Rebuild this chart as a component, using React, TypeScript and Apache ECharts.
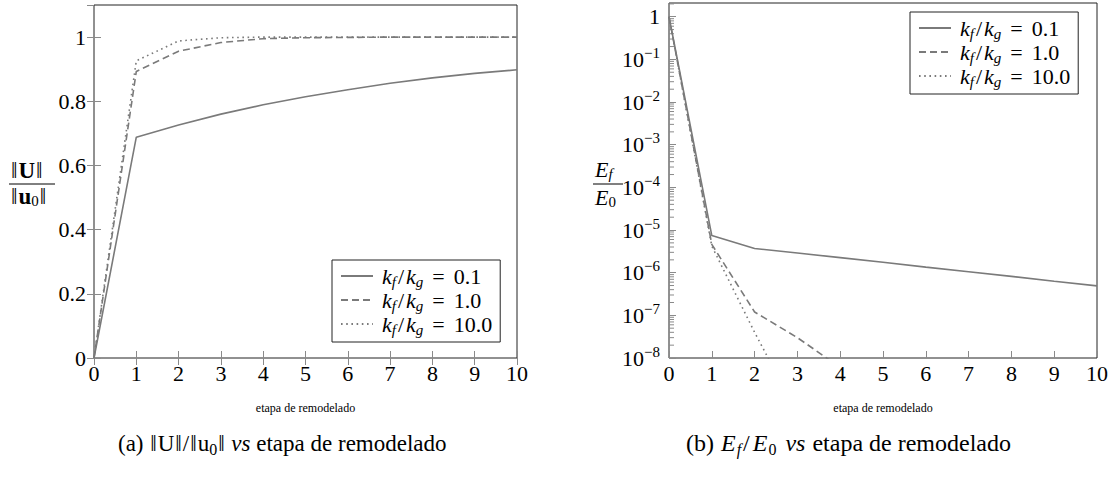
import React, { useEffect, useRef } from "react";
import * as echarts from "echarts";

const steps = [0, 1, 2, 3, 4, 5, 6, 7, 8, 9, 10];
const seriesNames = ["kf/kg = 0.1", "kf/kg = 1.0", "kf/kg = 10.0"];
const ratioLabels = ["0.1", "1.0", "10.0"];

// ||U|| / ||u0||
const normU_01 = [0, 0.688, 0.726, 0.76, 0.789, 0.814, 0.836, 0.856, 0.873, 0.887, 0.898];
const normU_1 = [0, 0.893, 0.956, 0.983, 0.995, 0.998, 0.999, 1.0, 1.0, 1.0, 1.0];
const normU_10 = [0, 0.926, 0.988, 0.998, 1.0, 1.0, 1.0, 1.0, 1.0, 1.0, 1.0];

// Ef / E0
const energy_01 = [1, 7.4e-6, 3.7e-6, 2.9e-6, 2.25e-6, 1.75e-6, 1.35e-6, 1.05e-6, 8.2e-7, 6.3e-7, 4.9e-7];
const energy_1 = [1, 4.6e-6, 1.2e-7, 3.0e-8, 6.0e-9];
const energy_10 = [1, 4.2e-6, 4.0e-8, 5.0e-10];

const linTicks = [0, 0.2, 0.4, 0.6, 0.8, 1];
const logDecades = [-8, -7, -6, -5, -4, -3, -2, -1, 0];
const minorMultipliers = [2, 3, 4, 5, 6, 7, 8, 9];

const FONT = "'Liberation Serif', 'DejaVu Serif', serif";
const LINE = "#7a7a7a";
const AXIS = "#222";
const TICK = "#8a8a8a";
const dashTypes: any[] = ["solid", [7, 4], [1.6, 3.6]];
const TICKFS = 22;

const pairs = (ys: number[]) => ys.map((y, i) => [steps[i], y]);

const legendRich = {
  p: { fontFamily: FONT, fontSize: 22, lineHeight: 26, color: "#000", padding: [0, 0, 0, 4] },
  i: { fontFamily: FONT, fontStyle: "italic", fontSize: 22, lineHeight: 26, color: "#000" },
  s: { fontFamily: FONT, fontStyle: "italic", fontSize: 15, lineHeight: 24, verticalAlign: "bottom", color: "#000" },
  n: { fontFamily: FONT, fontSize: 22, lineHeight: 26, color: "#000" },
  d: { fontFamily: FONT, fontSize: 22, lineHeight: 26, color: "#000", padding: [0, 2, 0, 2] },
  e: { fontFamily: FONT, fontSize: 22, lineHeight: 26, color: "#000", padding: [0, 9, 0, 9] },
};

const legendFormatter = (name: string) => {
  const idx = seriesNames.indexOf(name);
  return `{p|}{i|k}{s|f}{d|/}{i|k}{s|g}{e|=}{n|${ratioLabels[idx]}}`;
};

export default function App() {
  const ref = useRef<HTMLDivElement>(null);
  useEffect(() => {
    if (!ref.current) return;
    const chart = echarts.init(ref.current, undefined, { renderer: "svg" });

    const minorData: number[][] = [];
    logDecades.forEach((d) => {
      minorMultipliers.forEach((m) => {
        const v = m * Math.pow(10, d);
        if (v <= 2.1) minorData.push([0, v]);
      });
    });

    const tickStyle = { show: true, inside: true, length: 7, lineStyle: { color: TICK, width: 1 } };
    const hiddenSymbol = { color: "rgba(0,0,0,0)", borderColor: "rgba(0,0,0,0)", borderWidth: 0, opacity: 0 };

    const legendBase = {
      orient: "vertical",
      borderColor: AXIS, borderWidth: 1, padding: [5, 8, 5, 8], itemGap: 0,
      itemWidth: 32, itemHeight: 14, backgroundColor: "#fff",
      itemStyle: hiddenSymbol,
      textStyle: { rich: legendRich, fontFamily: FONT, fontSize: 22 },
      selectedMode: false,
    };

    const axisName = {
      name: "etapa de remodelado", nameLocation: "middle", nameGap: 44,
      nameTextStyle: { fontFamily: FONT, fontSize: 12, color: "#000" },
    };

    const option: any = {
      animation: false,
      backgroundColor: "#fff",
      textStyle: { fontFamily: FONT },
      grid: [
        { left: 94, top: 5, width: 423, height: 353, show: true, borderColor: AXIS, borderWidth: 1, backgroundColor: "transparent" },
        { left: 669, top: 3, width: 428, height: 355, show: true, borderColor: AXIS, borderWidth: 1, backgroundColor: "transparent" },
      ],
      xAxis: [
        {
          gridIndex: 0, type: "value", min: 0, max: 10, interval: 1,
          axisLine: { show: false }, axisTick: tickStyle, splitLine: { show: false },
          axisLabel: { fontFamily: FONT, fontSize: TICKFS, color: "#000", margin: 4 },
          ...axisName,
        },
        {
          gridIndex: 0, type: "value", min: 0, max: 10, interval: 1, position: "top",
          axisLine: { show: false }, axisTick: tickStyle, splitLine: { show: false }, axisLabel: { show: false },
        },
        {
          gridIndex: 1, type: "value", min: 0, max: 10, interval: 1,
          axisLine: { show: false }, axisTick: tickStyle, splitLine: { show: false },
          axisLabel: { fontFamily: FONT, fontSize: TICKFS, color: "#000", margin: 4 },
          ...axisName,
        },
      ],
      yAxis: [
        {
          gridIndex: 0, type: "value", min: 0, max: 1.1, interval: 0.2,
          axisLine: { show: false }, axisTick: tickStyle, splitLine: { show: false },
          axisLabel: {
            fontFamily: FONT, fontSize: TICKFS, color: "#000", margin: 8, showMaxLabel: false,
            formatter: (v: number) => {
              const r = Math.round(v * 10) / 10;
              if (!linTicks.some((t) => Math.abs(t - r) < 1e-9)) return "";
              return r === 0 ? "0" : r === 1 ? "1" : r.toFixed(1);
            },
          },
        },
        {
          gridIndex: 0, type: "value", min: 0, max: 1.1, interval: 0.2, position: "right",
          axisLine: { show: false }, axisTick: tickStyle, splitLine: { show: false }, axisLabel: { show: false },
        },
        {
          gridIndex: 1, type: "log", logBase: 10, min: 1e-8, max: 2.1, interval: 1,
          axisLine: { show: false }, axisTick: tickStyle, splitLine: { show: false },
          axisLabel: {
            margin: 9, showMaxLabel: false,
            formatter: (v: number) => {
              const e = Math.round(Math.log10(v));
              if (Math.abs(Math.log10(v) - e) > 1e-6) return "";
              if (e === 0) return "{b|1}";
              return `{b|10}{e|−${-e}}`;
            },
            rich: {
              b: { fontFamily: FONT, fontSize: TICKFS, color: "#000", lineHeight: 28 },
              e: { fontFamily: FONT, fontSize: 15, color: "#000", lineHeight: 16, verticalAlign: "top" },
            },
          },
        },
      ],
      legend: [
        { ...legendBase, data: seriesNames, left: 332, top: 260, formatter: legendFormatter },
        {
          ...legendBase, data: seriesNames.map((n) => n + " "), left: 910, top: 12,
          formatter: (n: string) => legendFormatter(n.trim()),
        },
      ],
      series: [
        ...[normU_01, normU_1, normU_10].map((d, i) => ({
          name: seriesNames[i], type: "line", xAxisIndex: 0, yAxisIndex: 0, data: pairs(d),
          symbol: "none", lineStyle: { color: LINE, width: 1.6, type: dashTypes[i] }, itemStyle: { color: LINE },
        })),
        ...[energy_01, energy_1, energy_10].map((d, i) => ({
          name: seriesNames[i] + " ", type: "line", xAxisIndex: 2, yAxisIndex: 2, data: pairs(d),
          symbol: "none", clip: true, lineStyle: { color: LINE, width: 1.6, type: dashTypes[i] }, itemStyle: { color: LINE },
        })),
        {
          type: "custom", xAxisIndex: 2, yAxisIndex: 2, data: minorData, silent: true,
          renderItem: (params: any, api: any) => {
            const p = api.coord([0, api.value(1)]);
            return {
              type: "line",
              shape: { x1: p[0], y1: p[1], x2: p[0] + 5, y2: p[1] },
              style: { stroke: TICK, lineWidth: 1 },
            };
          },
        },
      ],
      graphic: [
        // left y label: ||U|| / ||u0||
        {
          type: "text", left: 10, top: 159,
          style: {
            text: "{n|‖}{b|U}{n|‖}",
            rich: {
              n: { fontFamily: FONT, fontSize: 23, fill: "#000", lineHeight: 24, padding: [0, 1, 0, 1] },
              b: { fontFamily: FONT, fontWeight: "bold", fontSize: 23, fill: "#000", lineHeight: 24 },
            },
          },
        },
        { type: "line", shape: { x1: 9, y1: 184, x2: 55, y2: 184 }, style: { stroke: "#000", lineWidth: 1 } },
        {
          type: "text", left: 10, top: 185,
          style: {
            text: "{n|‖}{b|u}{s|0}{n|‖}",
            rich: {
              n: { fontFamily: FONT, fontSize: 23, fill: "#000", lineHeight: 24, padding: [0, 1, 0, 1] },
              b: { fontFamily: FONT, fontWeight: "bold", fontSize: 23, fill: "#000", lineHeight: 24 },
              s: { fontFamily: FONT, fontSize: 15, fill: "#000", lineHeight: 22, verticalAlign: "bottom" },
            },
          },
        },
        // right y label: Ef / E0
        {
          type: "text", left: 595, top: 158,
          style: {
            text: "{i|E}{s|f}",
            rich: {
              i: { fontFamily: FONT, fontStyle: "italic", fontSize: 22, fill: "#000", lineHeight: 24 },
              s: { fontFamily: FONT, fontStyle: "italic", fontSize: 15, fill: "#000", lineHeight: 22, verticalAlign: "bottom" },
            },
          },
        },
        { type: "line", shape: { x1: 593, y1: 184, x2: 623, y2: 184 }, style: { stroke: "#000", lineWidth: 1 } },
        {
          type: "text", left: 595, top: 186,
          style: {
            text: "{i|E}{s|0}",
            rich: {
              i: { fontFamily: FONT, fontStyle: "italic", fontSize: 22, fill: "#000", lineHeight: 24 },
              s: { fontFamily: FONT, fontSize: 15, fill: "#000", lineHeight: 22, verticalAlign: "bottom" },
            },
          },
        },
        // captions
        {
          type: "text", left: 118, top: 432,
          style: {
            text: "{n|(a) }{m|‖}{n|U}{m|‖}{n|/}{m|‖}{n|u}{s|0}{m|‖}{n| }{i|vs}{n| etapa de remodelado}",
            rich: {
              n: { fontFamily: FONT, fontSize: 23, fill: "#000", lineHeight: 28 },
              m: { fontFamily: FONT, fontSize: 23, fill: "#000", lineHeight: 28, padding: [0, 1, 0, 1] },
              i: { fontFamily: FONT, fontStyle: "italic", fontSize: 23, fill: "#000", lineHeight: 28 },
              s: { fontFamily: FONT, fontSize: 16, fill: "#000", lineHeight: 28, verticalAlign: "bottom" },
            },
          },
        },
        {
          type: "text", left: 686, top: 431,
          style: {
            text: "{n|(b) }{i|E}{si|f}{d|/}{i|E}{s|0}{n| }{i|vs}{n| etapa de remodelado}",
            rich: {
              n: { fontFamily: FONT, fontSize: 24, fill: "#000", lineHeight: 28 },
              d: { fontFamily: FONT, fontSize: 24, fill: "#000", lineHeight: 28, padding: [0, 2, 0, 2] },
              i: { fontFamily: FONT, fontStyle: "italic", fontSize: 24, fill: "#000", lineHeight: 28, padding: [0, 1, 0, 1] },
              s: { fontFamily: FONT, fontSize: 16, fill: "#000", lineHeight: 28, verticalAlign: "bottom", padding: [0, 2, 0, 0] },
              si: { fontFamily: FONT, fontStyle: "italic", fontSize: 16, fill: "#000", lineHeight: 28, verticalAlign: "bottom" },
            },
          },
        },
      ],
    };
    chart.setOption(option);
    return () => chart.dispose();
  }, []);
  return (
    <div
      ref={ref}
      style={{ position: "absolute", left: 0, top: 0, width: 1115, height: 480, background: "#fff" }}
    />
  );
}
